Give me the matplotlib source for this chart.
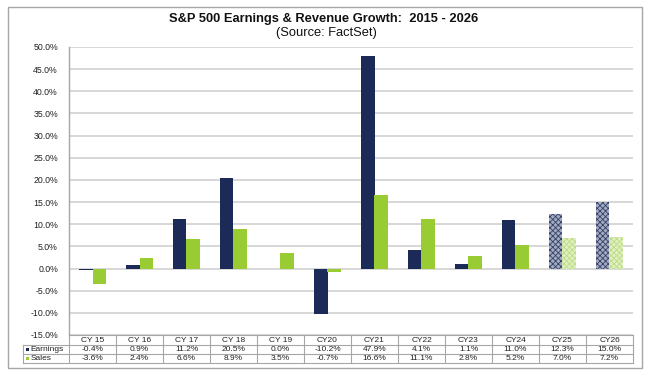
import matplotlib
matplotlib.use("Agg")
import matplotlib.pyplot as plt
from matplotlib.patches import Rectangle
from matplotlib.lines import Line2D
import numpy as np

plt.rcParams['font.family'] = ['Liberation Sans', 'DejaVu Sans']
plt.rcParams['hatch.linewidth'] = 0.6

categories = ["CY 15", "CY 16", "CY 17", "CY 18", "CY 19", "CY20", "CY21", "CY22", "CY23", "CY24", "CY25", "CY26"]
earnings = [-0.4, 0.9, 11.2, 20.5, 0.0, -10.2, 47.9, 4.1, 1.1, 11.0, 12.3, 15.0]
sales = [-3.6, 2.4, 6.6, 8.9, 3.5, -0.7, 16.6, 11.1, 2.8, 5.2, 7.0, 7.2]
earn_labels = ["-0.4%", "0.9%", "11.2%", "20.5%", "0.0%", "-10.2%", "47.9%", "4.1%", "1.1%", "11.0%", "12.3%", "15.0%"]
sales_labels = ["-3.6%", "2.4%", "6.6%", "8.9%", "3.5%", "-0.7%", "16.6%", "11.1%", "2.8%", "5.2%", "7.0%", "7.2%"]
estimate = [False] * 10 + [True, True]

NAVY = '#1b2a57'
GREEN = '#99cc33'
GRID = '#d4d4d4'
BORDER = '#a6a6a6'
TXT = '#222222'

W, H = 652, 382
fig = plt.figure(figsize=(W / 100, H / 100), dpi=100)

def fx(px):
    return px / W

def fy(py):
    return 1 - py / H

L, R, T, B = 69, 633, 47, 335
ax = fig.add_axes([fx(L), fy(B), fx(R) - fx(L), fy(T) - fy(B)])

x = np.arange(len(categories))
bw = 0.28
for i in x:
    if estimate[i]:
        ax.bar(i - bw / 2, earnings[i], bw, facecolor='#a3abbf', edgecolor='#34406a',
               hatch='xxxxxx', linewidth=0, zorder=3)
        ax.bar(i + bw / 2, sales[i], bw, facecolor='#e0efc0', edgecolor='#bcdc86',
               hatch='xxxxxx', linewidth=0, zorder=3)
    else:
        ax.bar(i - bw / 2, earnings[i], bw, color=NAVY, zorder=3, linewidth=0)
        ax.bar(i + bw / 2, sales[i], bw, color=GREEN, zorder=3, linewidth=0)

ax.set_xlim(-0.5, len(categories) - 0.5)
ax.set_ylim(-15, 50)
ticks = np.arange(-15, 51, 5)
ax.set_yticks(ticks)
ax.set_yticklabels([f"{t:.1f}%" for t in ticks], fontsize=6.3, color=TXT)
ax.set_xticks([])
ax.tick_params(axis='y', length=0, pad=8)
ax.yaxis.grid(True, color=GRID, linewidth=1.3, zorder=0)
ax.set_axisbelow(True)
for s in ['top', 'right', 'bottom']:
    ax.spines[s].set_visible(False)
ax.spines['left'].set_color(BORDER)
ax.spines['left'].set_linewidth(1.0)

# Data table below the axes
rows_y = [335, 345, 354, 363]
tl = 23
def hline(py, x0, x1):
    fig.add_artist(Line2D([fx(x0), fx(x1)], [fy(py), fy(py)], color=BORDER, linewidth=0.8))
def vline(px, y0, y1):
    fig.add_artist(Line2D([fx(px), fx(px)], [fy(y0), fy(y1)], color=BORDER, linewidth=0.8))

hline(rows_y[0], L, R)
for py in rows_y[1:]:
    hline(py, tl, R)
colw = (R - L) / len(categories)
for k in range(len(categories) + 1):
    vline(L + k * colw, rows_y[0], rows_y[3])
vline(tl, rows_y[1], rows_y[3])

fs = 6.0
for k in range(len(categories)):
    cx = fx(L + (k + 0.5) * colw)
    fig.text(cx, fy((rows_y[0] + rows_y[1]) / 2), categories[k], ha='center', va='center', fontsize=fs, color=TXT)
    fig.text(cx, fy((rows_y[1] + rows_y[2]) / 2), earn_labels[k], ha='center', va='center', fontsize=fs, color=TXT)
    fig.text(cx, fy((rows_y[2] + rows_y[3]) / 2), sales_labels[k], ha='center', va='center', fontsize=fs, color=TXT)

for r, (lab, col) in enumerate([("Earnings", NAVY), ("Sales", GREEN)]):
    yc = (rows_y[1 + r] + rows_y[2 + r]) / 2
    fig.add_artist(Rectangle((fx(tl + 3), fy(yc + 1.5)), fx(3), 3 / H, facecolor=col, edgecolor='none'))
    fig.text(fx(tl + 7.5), fy(yc), lab, color=TXT, ha='left', va='center', fontsize=fs)

# Titles
fig.text(fx(324), fy(19), "S&P 500 Earnings & Revenue Growth:  2015 - 2026", ha='center', va='center',
         fontsize=9.3, fontweight='bold', color='#111111')
fig.text(fx(326), fy(33), "(Source: FactSet)", ha='center', va='center', fontsize=9.3, color='#111111')

# Outer border
fig.add_artist(Rectangle((fx(8), fy(368)), fx(642) - fx(8), fy(7) - fy(368), fill=False,
                         edgecolor=BORDER, linewidth=1.0))

fig.savefig("out.png", dpi=100, facecolor='white')
